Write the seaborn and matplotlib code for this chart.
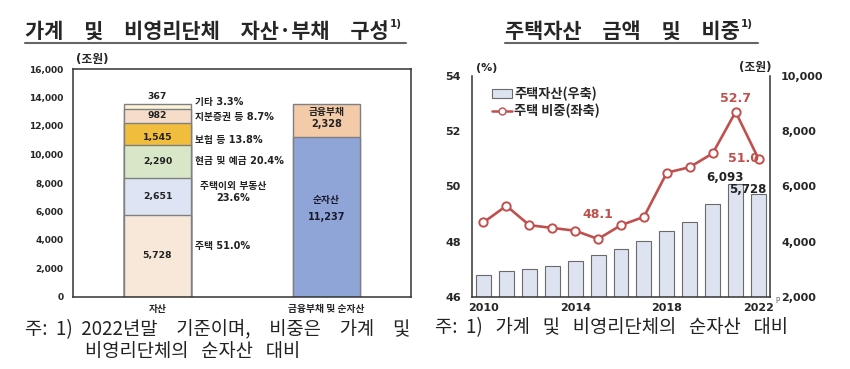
import numpy as np
import pandas as pd
import matplotlib
matplotlib.use("Agg")
import matplotlib.pyplot as plt
import seaborn as sns
from matplotlib.patches import Patch
from matplotlib.lines import Line2D

# ---- data ----
bar_cats = ["자산", "금융부채 및 순자산"]
asset_items = ["주택", "주택이외 부동산", "현금 및 예금", "보험 등", "지분증권 등", "기타"]
asset_values = [5728, 2651, 2290, 1545, 982, 367]
asset_shares = [51.0, 23.6, 20.4, 13.8, 8.7, 3.3]
liab_items = ["순자산", "금융부채"]
liab_values = [11237, 2328]

years = list(range(2010, 2023))
house_amount = [2780, 2940, 3030, 3110, 3300, 3510, 3720, 4010, 4390, 4700, 5380, 6093, 5728]
house_share = [48.7, 49.3, 48.6, 48.5, 48.4, 48.1, 48.6, 48.9, 50.5, 50.7, 51.2, 52.7, 51.0]
year_ticks = [2010, 2014, 2018, 2022]

# ---- style ----
sns.set_theme(style="white")
plt.rcParams["font.family"] = ["Noto Sans CJK KR", "DejaVu Sans"]
NUMF = ["DejaVu Sans", "Noto Sans CJK KR"]   # wide bold digits, hangul falls back

asset_colors = ["#f7e8d9", "#dde4f3", "#d9e7c9", "#f0bd3c", "#f5ddc9", "#fdf4d8"]
liab_colors = ["#8fa5d7", "#f3cba9"]
edge = "#7f7f7f"
red = "#c0504d"
dark = "#222222"

W, H = 850, 369
fig = plt.figure(figsize=(W / 100, H / 100), dpi=100)


def fx(x):
    return x / W


def fy(y):
    return 1 - y / H


# ---------------- left chart ----------------
ax1 = fig.add_axes([fx(73), fy(297), 338 / W, 228 / H])

cum_a = np.cumsum(asset_values)
for i in reversed(range(len(asset_values))):
    sns.barplot(x=[bar_cats[0]], y=[cum_a[i]], order=bar_cats, color=asset_colors[i],
                saturation=1, width=0.4, edgecolor=edge, linewidth=1, ax=ax1)
cum_l = np.cumsum(liab_values)
for i in reversed(range(len(liab_values))):
    sns.barplot(x=[bar_cats[1]], y=[cum_l[i]], order=bar_cats, color=liab_colors[i],
                saturation=1, width=0.4, edgecolor=edge, linewidth=1, ax=ax1)

# values inside the asset bar
mids_a = cum_a - np.array(asset_values) / 2
val_dy = [80, 0, 0, -240, 0, 0]
for i, v in enumerate(asset_values):
    y = mids_a[i] + val_dy[i]
    if i == len(asset_values) - 1:
        y = cum_a[i] + 490
    ax1.text(0, y, f"{v:,}", ha="center", va="center", fontsize=6.7, fontweight="bold",
             color=dark, family=NUMF)

# labels to the right of the asset bar
label_dy = [715, 280, 0, -450, -60, 300]
for i, (name, s) in enumerate(zip(asset_items, asset_shares)):
    if name == "주택이외 부동산":
        ax1.text(0.447, mids_a[i] + label_dy[i], f"{name}\n{s:.1f}%", ha="center", va="center",
                 fontsize=7, fontweight="bold", color=dark, linespacing=1.25, family=NUMF)
    else:
        ax1.text(0.222, mids_a[i] + label_dy[i], f"{name} {s:.1f}%", ha="left", va="center",
                 fontsize=7, fontweight="bold", color=dark, family=NUMF)

# values inside the liabilities bar
mids_l = cum_l - np.array(liab_values) / 2
ax1.text(1, mids_l[0] + 1190, liab_items[0], ha="center", va="center", fontsize=7,
         fontweight="bold", color="#1a1a2e", family=NUMF)
ax1.text(1, mids_l[0], f"{liab_values[0]:,}", ha="center", va="center", fontsize=7,
         fontweight="bold", color="#1a1a2e", family=NUMF)
ax1.text(1, mids_l[1] + 600, liab_items[1], ha="center", va="center", fontsize=7,
         fontweight="bold", color=dark, family=NUMF)
ax1.text(1, mids_l[1] - 260, f"{liab_values[1]:,}", ha="center", va="center", fontsize=7,
         fontweight="bold", color=dark, family=NUMF)

ax1.set_xlim(-0.5, 1.5)
ax1.set_ylim(0, 16000)
ax1.set_yticks(range(0, 16001, 2000))
ax1.set_yticklabels([f"{v:,}" for v in range(0, 16001, 2000)])
ax1.set_xlabel("")
ax1.set_ylabel("")
ax1.tick_params(axis="y", length=0, labelsize=6.5, pad=7)
ax1.tick_params(axis="x", length=0, labelsize=7, pad=5)
for lab in ax1.get_yticklabels():
    lab.set_fontweight("bold")
    lab.set_family(NUMF)
for lab in ax1.get_xticklabels():
    lab.set_fontweight("bold")
for sp in ax1.spines.values():
    sp.set_color("#333333")
    sp.set_linewidth(1.1)
fig.text(fx(92), fy(60), "(조원)", ha="center", va="center", fontsize=8.5, fontweight="bold", family=NUMF)

# ---------------- right chart ----------------
ax2 = fig.add_axes([fx(472), fy(297), 298 / W, 221 / H])
sns.barplot(x=years, y=house_amount, color="#dde3f1", saturation=1, width=0.65,
            edgecolor="#6a6a6a", linewidth=0.8, ax=ax2)

ax3 = ax2.twinx()
sns.pointplot(x=years, y=house_share, color=red, markers="o", errorbar=None,
              linewidth=1.9, markersize=6, markerfacecolor="white", markeredgewidth=1.4, ax=ax3)

ax2.yaxis.tick_right()
ax3.yaxis.tick_left()
ax2.set_ylim(2000, 10000)
ax2.set_yticks(range(2000, 10001, 2000))
ax2.set_yticklabels([f"{v:,}" for v in range(2000, 10001, 2000)])
ax3.set_ylim(46, 54)
ax3.set_yticks(range(46, 55, 2))
for a in (ax2, ax3):
    a.set_xlabel("")
    a.set_ylabel("")

ax2.set_xlim(-0.5, len(years) - 0.5)
tick_pos = [years.index(y) for y in year_ticks]
ax2.set_xticks(tick_pos)
ax2.set_xticklabels([str(y) for y in year_ticks])
for a in (ax2, ax3):
    a.tick_params(axis="both", length=0, labelsize=8, pad=4)
    for lab in a.get_xticklabels() + a.get_yticklabels():
        lab.set_fontweight("bold")
        lab.set_family(NUMF)
ax2.tick_params(axis="y", pad=8)
ax3.tick_params(axis="y", pad=8)
for sp in ax3.spines.values():
    sp.set_visible(False)
for sp in ax2.spines.values():
    sp.set_color("#333333")
    sp.set_linewidth(1.1)
ax2.spines["top"].set_visible(False)

# annotations
i21, i22, i15 = years.index(2021), years.index(2022), years.index(2015)
ax3.text(i21, house_share[i21] + 0.5, f"{house_share[i21]:.1f}", ha="center", va="center",
         fontsize=9, fontweight="bold", color=red, family=NUMF)
ax3.text(i22 - 0.67, house_share[i22], f"{house_share[i22]:.1f}", ha="center", va="center",
         fontsize=9, fontweight="bold", color=red, family=NUMF)
ax3.text(i15, house_share[i15] + 0.9, f"{house_share[i15]:.1f}", ha="center", va="center",
         fontsize=9, fontweight="bold", color=red, family=NUMF)
ax2.text(i21 - 0.45, house_amount[i21] + 250, f"{house_amount[i21]:,}", ha="center", va="center",
         fontsize=8.5, fontweight="bold", color=dark, family=NUMF)
ax2.text(i22 - 0.45, house_amount[i22] + 150, f"{house_amount[i22]:,}", ha="center", va="center",
         fontsize=8.5, fontweight="bold", color=dark, family=NUMF)

handles = [Patch(facecolor="#dde3f1", edgecolor="#6a6a6a", linewidth=0.8),
           Line2D([0], [0], color=red, lw=1.8, marker="o", markersize=5,
                  markerfacecolor="white", markeredgecolor=red)]
leg = ax3.legend(handles, ["주택자산(우축)", "주택 비중(좌축)"], loc="upper left",
                 bbox_to_anchor=(0.05, 0.975), frameon=False, fontsize=9.5, handlelength=1.5,
                 handleheight=0.6, handletextpad=0.15, labelspacing=0.2, borderaxespad=0)
for t in leg.get_texts():
    t.set_fontweight("bold")

fig.text(fx(487), fy(68), "(%)", ha="center", va="center", fontsize=8, fontweight="bold", family=NUMF)
fig.text(fx(755), fy(68), "(조원)", ha="center", va="center", fontsize=8.5, fontweight="bold", family=NUMF)
fig.text(fx(777), fy(299), "p", ha="center", va="center", fontsize=5, color="#555555")

# ---------------- titles & notes ----------------
t1 = fig.text(fx(25), fy(31), "가계\u3000및\u3000비영리단체\u3000자산·부채\u3000구성", ha="left", va="center",
              fontsize=15, fontweight="bold")
t2 = fig.text(fx(505), fy(31), "주택자산\u3000금액\u3000및\u3000비중", ha="left", va="center",
              fontsize=15, fontweight="bold")
fig.canvas.draw()
r = fig.canvas.get_renderer()
for t in (t1, t2):
    bb = t.get_window_extent(r)
    fig.text(bb.x1 / W + 0.001, fy(24), "1)", ha="left", va="center", fontsize=7.5, fontweight="bold",
             family=NUMF)
    fig.add_artist(Line2D([bb.x0 / W, bb.x1 / W + 0.021], [fy(43), fy(43)], color="#666666", lw=1.5))

fig.text(fx(25), fy(330), "주:  1)  2022년말\u3000기준이며,\u3000비중은\u3000가계\u3000및", ha="left", va="center",
         fontsize=13.5, color="#222222")
fig.text(fx(85), fy(352), "비영리단체의   순자산   대비", ha="left", va="center", fontsize=13.5, color="#222222")
fig.text(fx(435), fy(328), "주:  1)   가계   및   비영리단체의   순자산   대비", ha="left", va="center",
         fontsize=13.5, color="#222222")

fig.savefig("out.png", dpi=100, facecolor="white")
